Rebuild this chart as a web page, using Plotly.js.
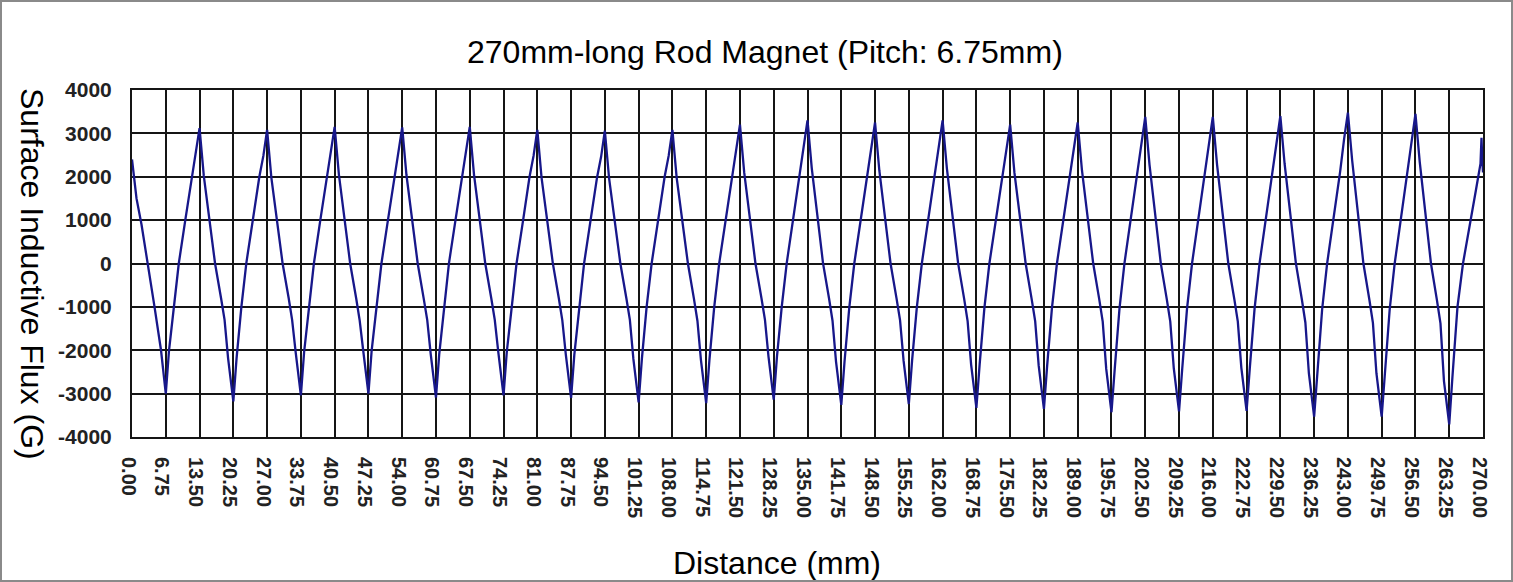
<!DOCTYPE html>
<html>
<head>
<meta charset="utf-8">
<script src="https://cdn.plot.ly/plotly-3.0.1.min.js"></script>
<style>
  html, body { margin: 0; padding: 0; background: #fff; }
  #chart { width: 1513px; height: 582px; box-sizing: border-box; border: 2px solid #8a8a8a; }
</style>
</head>
<body>
<div id="chart"></div>
<script>
// Distance along the rod (mm)
const distance = [
  0.00, 0.90, 1.90, 3.20, 4.50, 5.80, 6.75,
  7.40, 8.35, 9.35, 10.65, 11.95, 12.75, 13.50, 14.35, 15.50, 16.60, 17.80, 18.50, 19.20, 20.25,
  20.90, 21.85, 22.85, 24.15, 25.45, 26.25, 27.00, 27.85, 29.00, 30.10, 31.30, 32.00, 32.70, 33.75,
  34.40, 35.35, 36.35, 37.65, 38.95, 39.75, 40.50, 41.35, 42.50, 43.60, 44.80, 45.50, 46.20, 47.25,
  47.90, 48.85, 49.85, 51.15, 52.45, 53.25, 54.00, 54.85, 56.00, 57.10, 58.30, 59.00, 59.70, 60.75,
  61.40, 62.35, 63.35, 64.65, 65.95, 66.75, 67.50, 68.35, 69.50, 70.60, 71.80, 72.50, 73.20, 74.25,
  74.90, 75.85, 76.85, 78.15, 79.45, 80.25, 81.00, 81.85, 83.00, 84.10, 85.30, 86.00, 86.70, 87.75,
  88.40, 89.35, 90.35, 91.65, 92.95, 93.75, 94.50, 95.35, 96.50, 97.60, 98.80, 99.50, 100.20, 101.25,
  101.90, 102.85, 103.85, 105.15, 106.45, 107.25, 108.00, 108.85, 110.00, 111.10, 112.30, 113.00, 113.70, 114.75,
  115.40, 116.35, 117.35, 118.65, 119.95, 120.75, 121.50, 122.35, 123.50, 124.60, 125.80, 126.50, 127.20, 128.25,
  128.90, 129.85, 130.85, 132.15, 133.45, 134.25, 135.00, 135.85, 137.00, 138.10, 139.30, 140.00, 140.70, 141.75,
  142.40, 143.35, 144.35, 145.65, 146.95, 147.75, 148.50, 149.35, 150.50, 151.60, 152.80, 153.50, 154.20, 155.25,
  155.90, 156.85, 157.85, 159.15, 160.45, 161.25, 162.00, 162.85, 164.00, 165.10, 166.30, 167.00, 167.70, 168.75,
  169.40, 170.35, 171.35, 172.65, 173.95, 174.75, 175.50, 176.35, 177.50, 178.60, 179.80, 180.50, 181.20, 182.25,
  182.90, 183.85, 184.85, 186.15, 187.45, 188.25, 189.00, 189.85, 191.00, 192.10, 193.30, 194.00, 194.70, 195.75,
  196.40, 197.35, 198.35, 199.65, 200.95, 201.75, 202.50, 203.35, 204.50, 205.60, 206.80, 207.50, 208.20, 209.25,
  209.90, 210.85, 211.85, 213.15, 214.45, 215.25, 216.00, 216.85, 218.00, 219.10, 220.30, 221.00, 221.70, 222.75,
  223.40, 224.35, 225.35, 226.65, 227.95, 228.75, 229.50, 230.35, 231.50, 232.60, 233.80, 234.50, 235.20, 236.25,
  236.90, 237.85, 238.85, 240.15, 241.45, 242.25, 243.00, 243.85, 245.00, 246.10, 247.30, 248.00, 248.70, 249.75,
  250.40, 251.35, 252.35, 253.65, 254.95, 255.75, 256.50, 257.35, 258.50, 259.60, 260.80, 261.50, 262.20, 263.25,
  263.90, 264.90, 266.00, 267.30, 268.60, 269.50, 269.70, 269.85, 270.00
];

// Surface inductive flux (G)
const flux = [
  2400, 1500, 900, 0, -1000, -2000, -3000,
  -2000, -1000, 0, 1000, 2000, 2520, 3120, 2020, 1000, 0, -800, -1300, -2180, -3180,
  -2180, -1010, 10, 990, 2000, 2480, 3080, 1980, 1000, 0, -790, -1300, -2040, -3040,
  -2040, -1000, 0, 1010, 2010, 2550, 3150, 2050, 1010, 0, -800, -1310, -2000, -3000,
  -2000, -990, 0, 1000, 2000, 2540, 3140, 2040, 990, 0, -810, -1300, -2090, -3090,
  -2090, -1000, 10, 1000, 2010, 2550, 3150, 2050, 1000, 0, -800, -1300, -2040, -3040,
  -2040, -1000, 0, 990, 2000, 2480, 3080, 1980, 1000, 10, -800, -1310, -2100, -3100,
  -2100, -1010, 0, 1000, 1990, 2460, 3060, 1960, 990, 0, -800, -1300, -2200, -3200,
  -2200, -1000, 0, 1000, 2000, 2480, 3080, 1980, 1000, 0, -810, -1320, -2220, -3220,
  -2220, -1010, 0, 1010, 2030, 2600, 3200, 2100, 1020, 0, -800, -1300, -2140, -3140,
  -2140, -1000, 10, 1020, 2060, 2700, 3300, 2200, 1040, 10, -800, -1320, -2260, -3260,
  -2260, -1020, 0, 1010, 2050, 2650, 3250, 2150, 1030, 0, -810, -1310, -2240, -3240,
  -2240, -1010, 0, 1020, 2060, 2700, 3300, 2200, 1040, 10, -810, -1330, -2330, -3330,
  -2330, -1030, 0, 1010, 2030, 2600, 3200, 2100, 1020, 0, -820, -1330, -2350, -3350,
  -2350, -1030, 0, 1010, 2050, 2650, 3250, 2150, 1030, 0, -820, -1340, -2430, -3430,
  -2430, -1040, 10, 1030, 2090, 2780, 3380, 2280, 1060, 10, -820, -1340, -2410, -3410,
  -2410, -1040, 0, 1030, 2090, 2780, 3380, 2280, 1060, 0, -820, -1340, -2400, -3400,
  -2400, -1040, 10, 1040, 2100, 2800, 3400, 2300, 1070, 10, -830, -1360, -2530, -3530,
  -2530, -1060, 0, 1050, 2120, 2880, 3480, 2380, 1080, 0, -840, -1370, -2530, -3530,
  -2530, -1060, 0, 1050, 2110, 2850, 3450, 2350, 1080, 0, -850, -1380, -2710, -3710,
  -2600, -1000, 0, 900, 1700, 2300, 2900, 2400, 2100
];

const xTickVals = [0, 6.75, 13.5, 20.25, 27, 33.75, 40.5, 47.25, 54, 60.75, 67.5, 74.25, 81, 87.75, 94.5,
  101.25, 108, 114.75, 121.5, 128.25, 135, 141.75, 148.5, 155.25, 162, 168.75, 175.5, 182.25, 189,
  195.75, 202.5, 209.25, 216, 222.75, 229.5, 236.25, 243, 249.75, 256.5, 263.25, 270];
const xTickText = ["0.00", "6.75", "13.50", "20.25", "27.00", "33.75", "40.50", "47.25", "54.00", "60.75",
  "67.50", "74.25", "81.00", "87.75", "94.50", "101.25", "108.00", "114.75", "121.50", "128.25", "135.00",
  "141.75", "148.50", "155.25", "162.00", "168.75", "175.50", "182.25", "189.00", "195.75", "202.50",
  "209.25", "216.00", "222.75", "229.50", "236.25", "243.00", "249.75", "256.50", "263.25", "270.00"];
const yTickVals = [-4000, -3000, -2000, -1000, 0, 1000, 2000, 3000, 4000];
const yTickText = ["-4000", "-3000", "-2000", "-1000", "0", "1000", "2000", "3000", "4000"];

const chartTitle = "270mm-long Rod Magnet (Pitch: 6.75mm)";
const xTitle = "Distance (mm)";
const yTitle = "Surface Inductive Flux (G)";

const tickFont = { family: "Liberation Sans, Arial, sans-serif", size: 20, color: "#222", weight: "bold" };
const yTickFont = { family: "Liberation Sans, Arial, sans-serif", size: 21, color: "#222", weight: "bold" };
const titleFont = { family: "Liberation Sans, Arial, sans-serif", size: 32, color: "#000" };

const trace = {
  x: distance, y: flux, type: "scatter", mode: "lines",
  line: { color: "#17178a", width: 2.3 },
  hoverinfo: "x+y"
};

const layout = {
  width: 1509, height: 578,
  margin: { l: 130, r: 28, t: 88, b: 143 },
  paper_bgcolor: "#ffffff", plot_bgcolor: "#ffffff",
  showlegend: false,
  xaxis: {
    range: [0, 270], tickmode: "array", tickvals: xTickVals, ticktext: xTickText,
    tickangle: 90, tickfont: tickFont, ticks: "", ticklabelstandoff: 14, ticklabelshift: -4,
    showgrid: true, gridcolor: "#151515", gridwidth: 2,
    showline: true, linecolor: "#151515", linewidth: 2, mirror: true, zeroline: false
  },
  yaxis: {
    range: [-4000, 4000], tickmode: "array", tickvals: yTickVals, ticktext: yTickText,
    tickfont: yTickFont, ticks: "", ticklabelstandoff: 14,
    showgrid: true, gridcolor: "#151515", gridwidth: 2,
    showline: true, linecolor: "#151515", linewidth: 2, mirror: true, zeroline: false
  },
  annotations: [
    { text: chartTitle, xref: "paper", yref: "paper", x: 0.4685, y: 1.1095,
      xanchor: "center", yanchor: "middle", showarrow: false, font: titleFont },
    { text: xTitle, xref: "paper", yref: "paper", x: 0.4774, y: -0.363,
      xanchor: "center", yanchor: "middle", showarrow: false, font: titleFont },
    { text: yTitle, xref: "paper", yref: "paper", x: -0.074, y: 0.4697, textangle: 90,
      xanchor: "center", yanchor: "middle", showarrow: false, font: titleFont }
  ]
};

Plotly.newPlot("chart", [trace], layout, { displayModeBar: false, staticPlot: true });
</script>
</body>
</html>
